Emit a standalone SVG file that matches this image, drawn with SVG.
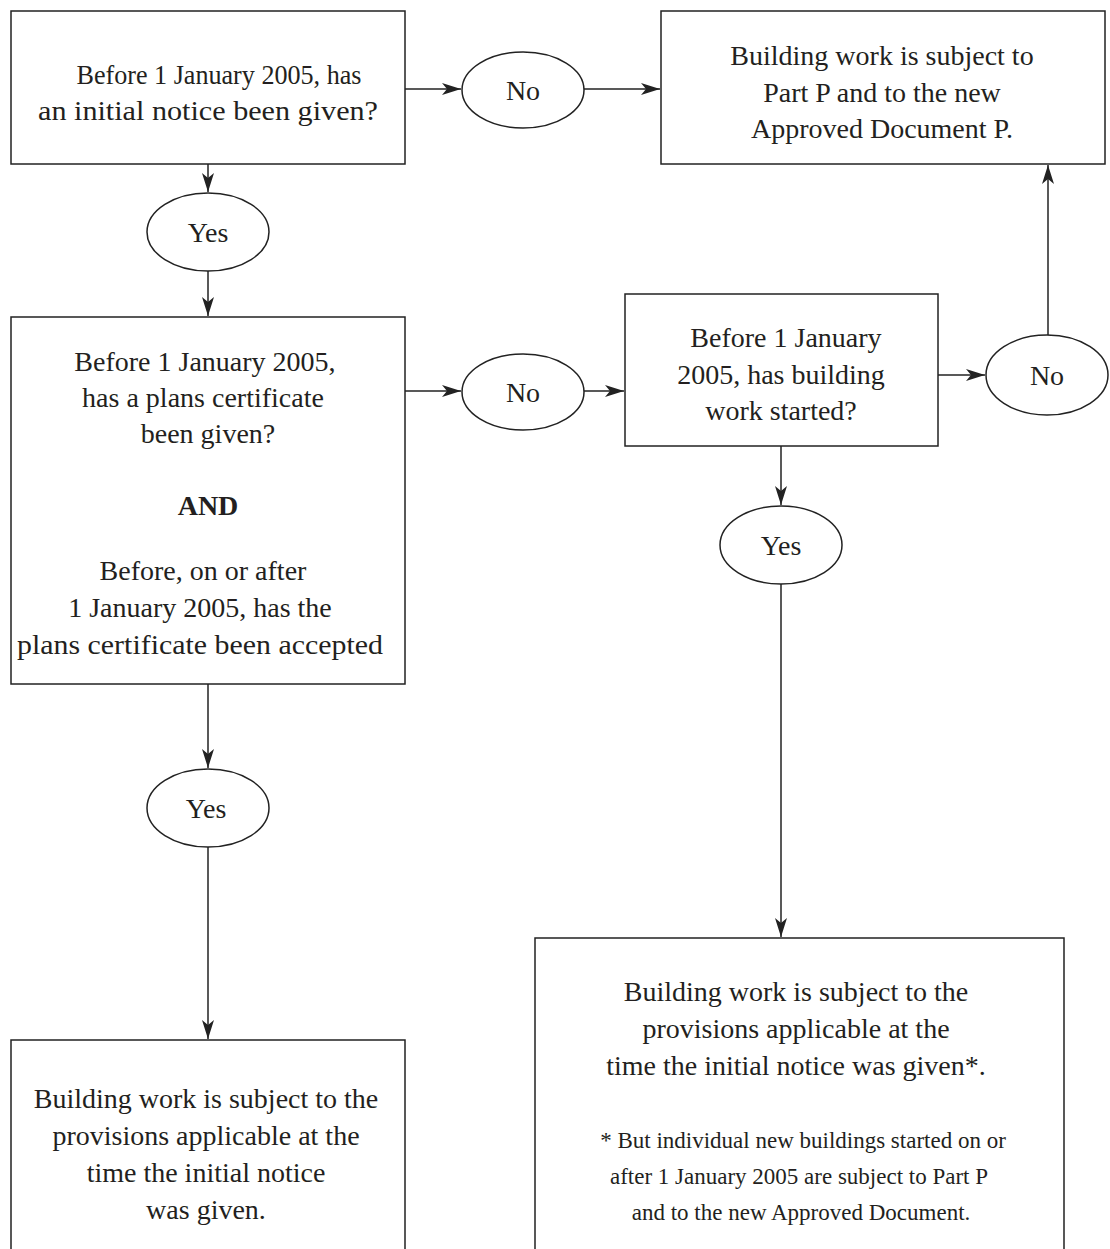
<svg xmlns="http://www.w3.org/2000/svg" width="1110" height="1249" viewBox="0 0 1110 1249">
<style>
.box{fill:#fff;stroke:#222;stroke-width:1.5}
.ell{fill:#fff;stroke:#222;stroke-width:1.5}
.t{font-family:"Liberation Serif","Times New Roman",serif;font-size:28px;fill:#231f20;text-anchor:middle}
.s{font-family:"Liberation Serif","Times New Roman",serif;font-size:23px;fill:#231f20;text-anchor:middle}
.b{font-weight:bold}
.c{stroke:#222;stroke-width:1.5;fill:none;marker-end:url(#ah)}
</style>
<defs>
<marker id="ah" markerUnits="userSpaceOnUse" markerWidth="20" markerHeight="12" refX="19" refY="6" orient="auto">
<path d="M0,0 L19,6 L0,12 L5,6 Z" fill="#222"/>
</marker>
</defs>
<g id="connectors">
<line class="c" x1="405" y1="89" x2="461" y2="89"/>
<line class="c" x1="584" y1="89" x2="660" y2="89"/>
<line class="c" x1="208" y1="164" x2="208" y2="192"/>
<line class="c" x1="208" y1="271" x2="208" y2="316"/>
<line class="c" x1="405" y1="391" x2="461" y2="391"/>
<line class="c" x1="584" y1="391" x2="624" y2="391"/>
<line class="c" x1="938" y1="375" x2="985" y2="375"/>
<line class="c" x1="1048" y1="335" x2="1048" y2="165"/>
<line class="c" x1="781" y1="446" x2="781" y2="505"/>
<line class="c" x1="781" y1="584" x2="781" y2="937"/>
<line class="c" x1="208" y1="684" x2="208" y2="768"/>
<line class="c" x1="208" y1="847" x2="208" y2="1039"/>
</g>
<g id="q1">
<rect class="box" x="11" y="11" width="394" height="153"/>
<text class="t" x="219" y="84" textLength="285" lengthAdjust="spacingAndGlyphs">Before 1 January 2005, has</text>
<text class="t" x="208" y="120" textLength="340" lengthAdjust="spacingAndGlyphs">an initial notice been given?</text>
</g>
<g id="no1">
<ellipse class="ell" cx="523" cy="90" rx="61" ry="38"/>
<text class="t" x="523" y="100">No</text>
</g>
<g id="r1">
<rect class="box" x="661" y="11" width="444" height="153"/>
<text class="t" x="882" y="65">Building work is subject to</text>
<text class="t" x="882" y="102">Part P and to the new</text>
<text class="t" x="882" y="138">Approved Document P.</text>
</g>
<g id="yes1">
<ellipse class="ell" cx="208" cy="232" rx="61" ry="39"/>
<text class="t" x="208" y="242">Yes</text>
</g>
<g id="q2">
<rect class="box" x="11" y="317" width="394" height="367"/>
<text class="t" x="205" y="371">Before 1 January 2005,</text>
<text class="t" x="203" y="407">has a plans certificate</text>
<text class="t" x="208" y="443">been given?</text>
<text class="t b" x="208" y="515">AND</text>
<text class="t" x="203" y="580">Before, on or after</text>
<text class="t" x="200" y="617">1 January 2005, has the</text>
<text class="t" x="200" y="654" textLength="366" lengthAdjust="spacingAndGlyphs">plans certificate been accepted</text>
</g>
<g id="no2">
<ellipse class="ell" cx="523" cy="392" rx="61" ry="38"/>
<text class="t" x="523" y="402">No</text>
</g>
<g id="q3">
<rect class="box" x="625" y="294" width="313" height="152"/>
<text class="t" x="786" y="347">Before 1 January</text>
<text class="t" x="781" y="384">2005, has building</text>
<text class="t" x="781" y="420">work started?</text>
</g>
<g id="no3">
<ellipse class="ell" cx="1047" cy="375" rx="61" ry="40"/>
<text class="t" x="1047" y="385">No</text>
</g>
<g id="yes2">
<ellipse class="ell" cx="781" cy="545" rx="61" ry="39"/>
<text class="t" x="781" y="555">Yes</text>
</g>
<g id="yes3">
<ellipse class="ell" cx="208" cy="808" rx="61" ry="39"/>
<text class="t" x="206" y="818">Yes</text>
</g>
<g id="r2">
<path class="box" d="M11,1252 L11,1040 L405,1040 L405,1252"/>
<text class="t" x="206" y="1108">Building work is subject to the</text>
<text class="t" x="206" y="1145">provisions applicable at the</text>
<text class="t" x="206" y="1182">time the initial notice</text>
<text class="t" x="206" y="1219">was given.</text>
</g>
<g id="r3">
<path class="box" d="M535,1252 L535,938 L1064,938 L1064,1252"/>
<text class="t" x="796" y="1001">Building work is subject to the</text>
<text class="t" x="796" y="1038">provisions applicable at the</text>
<text class="t" x="796" y="1075">time the initial notice was given*.</text>
<text class="s" x="803" y="1148">* But individual new buildings started on or</text>
<text class="s" x="799" y="1184">after 1 January 2005 are subject to Part P</text>
<text class="s" x="801" y="1220">and to the new Approved Document.</text>
</g>
</svg>
